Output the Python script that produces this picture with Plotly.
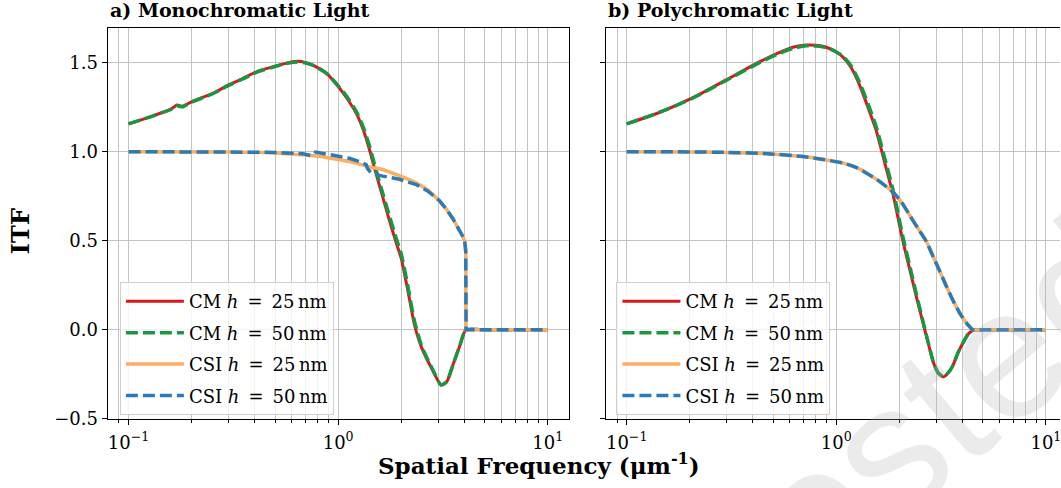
import plotly.graph_objects as go

W, H = 1061, 488

# ---------------- data ----------------
# a) Monochromatic light
cm25_mono_x = [0.1, 0.13, 0.16, 0.17, 0.18, 0.2, 0.255, 0.3, 0.35, 0.41, 0.5, 0.58, 0.64, 0.7, 0.76, 0.88,
               1.0, 1.1, 1.22, 1.31, 1.4, 1.49, 1.6, 1.75, 1.89, 2.0, 2.15, 2.31, 2.5, 2.83, 3.1, 3.3,
               3.52, 3.8, 4.07, 5.0, 7.0, 10.0]
cm25_mono_y = [1.156, 1.2, 1.24, 1.262, 1.255, 1.28, 1.33, 1.375, 1.41, 1.45, 1.48, 1.5, 1.507, 1.5, 1.485, 1.44,
               1.366, 1.3, 1.215, 1.13, 1.025, 0.908, 0.78, 0.62, 0.49, 0.40, 0.22, 0.03, -0.1, -0.23, -0.31, -0.29,
               -0.2, -0.09, 0.0, 0.0, 0.0, 0.0]
cm50_mono_x = cm25_mono_x
cm50_mono_y = [1.156, 1.2, 1.238, 1.258, 1.252, 1.278, 1.328, 1.372, 1.408, 1.447, 1.478, 1.498, 1.503, 1.498, 1.484, 1.44,
               1.37, 1.31, 1.225, 1.145, 1.045, 0.93, 0.8, 0.645, 0.515, 0.425, 0.245, 0.05, -0.09, -0.225, -0.31, -0.29,
               -0.2, -0.09, 0.0, 0.0, 0.0, 0.0]
csi25_mono_x = [0.1, 0.2, 0.3, 0.45, 0.56, 0.7, 0.83, 1.0, 1.13, 1.22, 1.4, 1.63, 1.81, 2.0, 2.36, 2.68,
                3.04, 3.27, 3.52, 3.82, 3.95, 4.02, 4.06, 4.075, 5.0, 7.0, 10.0]
csi25_mono_y = [1.0, 1.0, 0.998, 0.995, 0.99, 0.982, 0.973, 0.958, 0.945, 0.936, 0.915, 0.9, 0.881, 0.862, 0.826, 0.785,
                0.725, 0.68, 0.625, 0.551, 0.52, 0.49, 0.44, 0.0, 0.0, 0.0, 0.0]
csi50_mono_x = [0.1, 0.2, 0.3, 0.45, 0.56, 0.68, 0.74, 0.765, 0.78, 0.85, 1.0, 1.13, 1.3, 1.36, 1.38, 1.44,
                1.63, 1.96, 2.36, 2.68, 3.04, 3.27, 3.52, 3.82, 3.95, 4.02, 4.06, 4.075, 5.0, 7.0, 10.0]
csi50_mono_y = [1.0, 1.0, 0.999, 0.997, 0.993, 0.988, 0.978, 0.985, 0.998, 0.99, 0.975, 0.963, 0.94, 0.927, 0.905, 0.88,
                0.863, 0.845, 0.815, 0.778, 0.725, 0.68, 0.625, 0.551, 0.52, 0.49, 0.44, 0.0, 0.0, 0.0, 0.0]

# b) Polychromatic light
cm25_poly_x = [0.1, 0.143, 0.206, 0.298, 0.43, 0.52, 0.62, 0.72, 0.8, 0.895, 1.0, 1.076, 1.18, 1.29, 1.42, 1.55,
               1.7, 1.87, 2.08, 2.25, 2.41, 2.69, 2.9, 3.05, 3.23, 3.4, 3.6, 3.8, 4.03, 4.25, 4.42, 4.6,
               5.0, 7.0, 10.0]
cm25_poly_y = [1.156, 1.22, 1.302, 1.403, 1.504, 1.55, 1.586, 1.599, 1.597, 1.586, 1.56, 1.531, 1.47, 1.375, 1.245, 1.119,
               0.94, 0.753, 0.496, 0.33, 0.185, -0.035, -0.181, -0.24, -0.264, -0.245, -0.2, -0.13, -0.071, -0.025, -0.007, 0.0,
               0.0, 0.0, 0.0]
cm50_poly_x = cm25_poly_x
cm50_poly_y = [1.156, 1.22, 1.3, 1.4, 1.5, 1.546, 1.58, 1.594, 1.593, 1.584, 1.56, 1.535, 1.48, 1.39, 1.265, 1.14,
               0.965, 0.78, 0.52, 0.35, 0.2, -0.03, -0.178, -0.238, -0.262, -0.244, -0.2, -0.13, -0.071, -0.025, -0.007, 0.0,
               0.0, 0.0, 0.0]
csi25_poly_x = [0.1, 0.2, 0.3, 0.45, 0.69, 0.85, 1.08, 1.25, 1.39, 1.6, 1.87, 2.05, 2.24, 2.45, 2.69, 2.9,
                3.11, 3.35, 3.6, 3.9, 4.18, 4.35, 4.49, 5.0, 7.0, 10.0]
csi25_poly_y = [1.0, 0.999, 0.996, 0.99, 0.973, 0.958, 0.936, 0.91, 0.881, 0.835, 0.771, 0.715, 0.643, 0.57, 0.496, 0.41,
                0.331, 0.245, 0.166, 0.09, 0.038, 0.015, 0.0, 0.0, 0.0, 0.0]
csi50_poly_x = csi25_poly_x
csi50_poly_y = csi25_poly_y

x_tickvals = [0.1, 1, 10]
x_ticktext = ["10<sup>−1</sup>", "10<sup>0</sup>", "10<sup>1</sup>"]
x_minor = [0.09, 0.2, 0.3, 0.4, 0.5, 0.6, 0.7, 0.8, 0.9, 2, 3, 4, 5, 6, 7, 8, 9]
y_tickvals = [-0.5, 0.0, 0.5, 1.0, 1.5]
y_ticktext = ["−0.5", "0.0", "0.5", "1.0", "1.5"]

names = ["CM <i>h</i>\u2002=\u200225\u2009nm", "CM <i>h</i>\u2002=\u200250\u2009nm",
         "CSI <i>h</i>\u2002=\u200225\u2009nm", "CSI <i>h</i>\u2002=\u200250\u2009nm"]
colors = ["#d7191c", "#1a9641", "#fdae61", "#2c7bb6"]
dashes = ["solid", "12px,5px", "solid", "12px,5px"]
widths = [3, 3.5, 3.5, 3.5]

FONT = "DejaVu Serif"

fig = go.Figure()
panels = [
    ("x", "y", "legend", "a", [(cm25_mono_x, cm25_mono_y), (cm50_mono_x, cm50_mono_y),
                               (csi25_mono_x, csi25_mono_y), (csi50_mono_x, csi50_mono_y)],
     ["spline", "spline", "linear", "linear"]),
    ("x2", "y2", "legend2", "b", [(cm25_poly_x, cm25_poly_y), (cm50_poly_x, cm50_poly_y),
                                  (csi25_poly_x, csi25_poly_y), (csi50_poly_x, csi50_poly_y)],
     ["spline", "spline", "spline", "spline"]),
]
for xa, ya, leg, tag, series, shapes in panels:
    for i, (xs, ys) in enumerate(series):
        line = dict(color=colors[i], width=widths[i], dash=dashes[i], shape=shapes[i])
        if shapes[i] == "spline":
            line["smoothing"] = 0.6
        fig.add_trace(go.Scatter(
            x=xs, y=ys, mode="lines", name=names[i], xaxis=xa, yaxis=ya, legend=leg,
            legendgroup=f"{tag}{i}", line=line,
        ))

# pixel geometry
L1, R1 = 107.7, 569.3
L2 = 606.3
TOP, BOT = 29, 427.7
px_per_dec = (R1 - L1) / 2.2

ydom = [1 - BOT / H, 1 - TOP / H]
grid = "#c4c4c4"
common_x = dict(type="log", showgrid=True, gridcolor=grid, gridwidth=1,
                tickvals=x_tickvals, ticktext=x_ticktext, ticks="outside", ticklen=5,
                tickcolor="black", showline=True, linecolor="black", linewidth=1,
                zeroline=False, tickfont=dict(family=FONT, size=18, color="black"),
                ticklabeloverflow="allow", ticklabelstandoff=2,
                minor=dict(tickmode="array", tickvals=x_minor, ticks="outside", ticklen=3,
                           tickcolor="black", showgrid=True, gridcolor=grid, gridwidth=1))
common_y = dict(range=[-0.5, 1.692], showgrid=True, gridcolor=grid, gridwidth=1,
                tickvals=y_tickvals, ticktext=y_ticktext, ticks="outside", ticklen=5,
                tickcolor="black", showline=True, linecolor="black", linewidth=1,
                zeroline=False, tickfont=dict(family=FONT, size=18, color="black"))

x2_hi = -1.1 + (W - L2) / px_per_dec

fig.update_layout(
    width=W, height=H, margin=dict(l=0, r=0, t=0, b=0),
    paper_bgcolor="white", plot_bgcolor="white",
    xaxis=dict(domain=[L1 / W, R1 / W], range=[-1.1, 1.1], anchor="y", mirror=True, **common_x),
    yaxis=dict(domain=ydom, anchor="x", mirror=True, **common_y),
    xaxis2=dict(domain=[L2 / W, 1.0], range=[-1.1, x2_hi], anchor="y2", mirror=True, **common_x),
    yaxis2=dict(domain=ydom, anchor="x2", showticklabels=False, mirror=False, **common_y),
    showlegend=True,
)
leg_common = dict(bgcolor="rgba(255,255,255,0.8)", bordercolor="#d0d0d0", borderwidth=1,
                  font=dict(family=FONT, size=18, color="black"), itemwidth=58,
                  xanchor="left", yanchor="top", tracegroupgap=5, traceorder="grouped")
fig.update_layout(
    legend=dict(x=120 / W, y=1 - 288 / H, **leg_common),
    legend2=dict(x=617 / W, y=1 - 288 / H, **leg_common),
)

ann = []
for label, x0 in [("<b>a) Monochromatic Light</b>", L1), ("<b>b) Polychromatic Light</b>", L2)]:
    ann.append(dict(text=label, x=x0 / W, y=1 - 23 / H, xref="paper", yref="paper",
                    xanchor="left", yanchor="bottom", showarrow=False,
                    font=dict(family=FONT, size=19, color="black")))
ann.append(dict(text="<b>Spatial Frequency (μm<sup>-1</sup>)</b>", x=540 / W, y=1 - 474 / H,
                xref="paper", yref="paper", xanchor="center", yanchor="middle", showarrow=False,
                font=dict(family=FONT, size=23, color="black")))
ann.append(dict(text="<b>ITF</b>", x=20 / W, y=1 - 236 / H, xref="paper", yref="paper",
                xanchor="center", yanchor="middle", textangle=-90, showarrow=False,
                font=dict(family=FONT, size=24, color="black")))
# faint diagonal watermark in the lower right corner
ann.append(dict(text="Posted", x=900 / W, y=1 - 450 / H, xref="paper", yref="paper",
                xanchor="center", yanchor="middle", textangle=-40, showarrow=False,
                font=dict(family="Liberation Sans", size=185, color="rgba(170,170,170,0.24)")))
fig.update_layout(annotations=ann)

fig.write_html("out.html")
